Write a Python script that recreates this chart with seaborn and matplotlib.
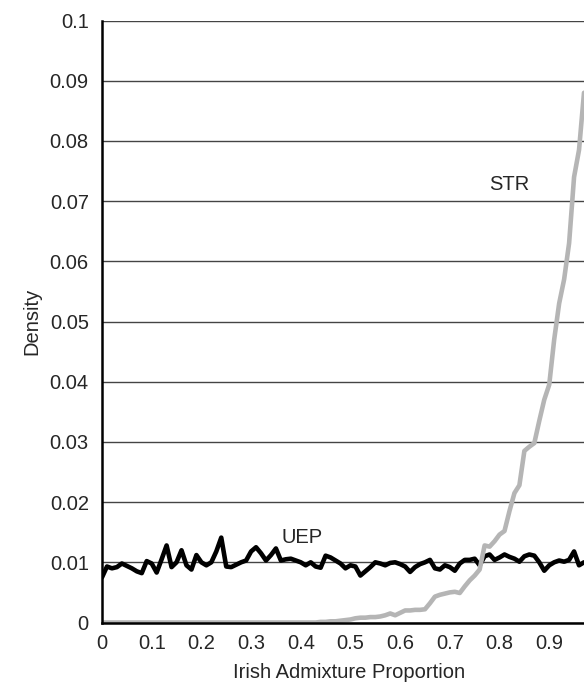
import numpy as np
import pandas as pd
import matplotlib
matplotlib.use("Agg")
import matplotlib.pyplot as plt
import seaborn as sns

# Irish admixture proportion grid (0.00 .. 0.97 in steps of 0.01)
proportion = np.round(np.arange(0, 98) * 0.01, 2)

uep_density = [
    0.0075, 0.0093, 0.0090, 0.0092, 0.0098, 0.0094, 0.0090, 0.0085, 0.0082, 0.0102,
    0.0098, 0.0083, 0.0105, 0.0128, 0.0092, 0.0100, 0.0120, 0.0095, 0.0088, 0.0112,
    0.0100, 0.0095, 0.0100, 0.0118, 0.0141, 0.0093, 0.0092, 0.0096, 0.0100,
    0.0103, 0.0118, 0.0125, 0.0115, 0.0103, 0.0112, 0.0123, 0.0103, 0.0105, 0.0106,
    0.0103, 0.0100, 0.0095, 0.0100, 0.0093, 0.0091, 0.0111, 0.0108, 0.0103, 0.0098,
    0.0090, 0.0095, 0.0093, 0.0078, 0.0085, 0.0092, 0.0100, 0.0098, 0.0095, 0.0099,
    0.0100, 0.0097, 0.0093, 0.0084, 0.0092, 0.0097, 0.0100, 0.0104, 0.0090, 0.0088,
    0.0095, 0.0092, 0.0086, 0.0098, 0.0104, 0.0104, 0.0106, 0.0095, 0.0110,
    0.0113, 0.0104, 0.0108, 0.0113, 0.0109, 0.0106, 0.0101, 0.0110, 0.0113, 0.0111,
    0.0100, 0.0086, 0.0095, 0.0100, 0.0103, 0.0101, 0.0104, 0.0118, 0.0095, 0.0100,
]

str_density = [
    0.0, 0.0, 0.0, 0.0, 0.0, 0.0, 0.0, 0.0, 0.0, 0.0,
    0.0, 0.0, 0.0, 0.0, 0.0, 0.0, 0.0, 0.0, 0.0, 0.0,
    0.0, 0.0, 0.0, 0.0, 0.0, 0.0, 0.0, 0.0, 0.0,
    0.0, 0.0, 0.0, 0.0, 0.0, 0.0, 0.0, 0.0, 0.0, 0.0,
    0.0, 0.0, 0.0, 0.0, 0.0, 0.0001, 0.0001, 0.0002, 0.0002, 0.0003,
    0.0004, 0.0005, 0.0007, 0.0008, 0.0008, 0.0009, 0.0009, 0.0010, 0.0012, 0.0015,
    0.0012, 0.0016, 0.0020, 0.0020, 0.0021, 0.0021, 0.0022, 0.0032, 0.0043, 0.0046,
    0.0048, 0.0050, 0.0051, 0.0049, 0.0060, 0.0070, 0.0078, 0.0088, 0.0128,
    0.0126, 0.0135, 0.0146, 0.0152, 0.0185, 0.0215, 0.0228, 0.0285, 0.0292, 0.0298,
    0.0335, 0.0370, 0.0395, 0.0470, 0.0530, 0.0570, 0.0630, 0.0740, 0.0785, 0.0880,
]

x_ticks = [0, 0.1, 0.2, 0.3, 0.4, 0.5, 0.6, 0.7, 0.8, 0.9]
x_tick_labels = ["0", "0.1", "0.2", "0.3", "0.4", "0.5", "0.6", "0.7", "0.8", "0.9"]
y_ticks = [0, 0.01, 0.02, 0.03, 0.04, 0.05, 0.06, 0.07, 0.08, 0.09, 0.1]
y_tick_labels = ["0", "0.01", "0.02", "0.03", "0.04", "0.05", "0.06", "0.07", "0.08", "0.09", "0.1"]

df = pd.DataFrame({
    "Irish Admixture Proportion": np.concatenate([proportion, proportion]),
    "Density": np.concatenate([uep_density, str_density]),
    "group": ["UEP"] * len(proportion) + ["STR"] * len(proportion),
})

sns.set_style("white")
plt.rcParams["font.family"] = ["Liberation Sans", "DejaVu Sans"]

FS = 14.5

fig = plt.figure(figsize=(5.84, 6.84), dpi=100)
ax = fig.add_axes([102 / 584, 1 - 622.5 / 684, 1 - 102 / 584, 602 / 684])

sns.lineplot(data=df, x="Irish Admixture Proportion", y="Density", hue="group",
             hue_order=["UEP", "STR"], palette={"UEP": "black", "STR": "#b5b5b5"},
             linewidth=3.3, legend=False, ax=ax, estimator=None, sort=False)

ax.set_xlim(0, 0.97)
ax.set_ylim(0, 0.1)
ax.set_xticks(x_ticks)
ax.set_xticklabels(x_tick_labels, fontsize=FS)
ax.set_yticks(y_ticks)
ax.set_yticklabels(y_tick_labels, fontsize=FS)
ax.yaxis.grid(True, color="#444444", linewidth=1.0)
ax.xaxis.grid(False)
ax.set_axisbelow(True)

ax.tick_params(axis="y", direction="inout", length=7, width=1, color="black", pad=6)
ax.tick_params(axis="x", length=0, pad=8.5)

for side in ["top", "right"]:
    ax.spines[side].set_visible(False)
ax.spines["left"].set_color("black")
ax.spines["left"].set_linewidth(1.8)
ax.spines["bottom"].set_color("black")
ax.spines["bottom"].set_linewidth(1.8)

ax.set_xlabel("Irish Admixture Proportion", fontsize=FS)
ax.xaxis.set_label_coords(0.512, -0.0665)
ax.set_ylabel("Density", fontsize=FS, labelpad=6)

ax.text(0.402, 0.01415, "UEP", fontsize=FS, ha="center", va="center")
ax.text(0.819, 0.0727, "STR", fontsize=FS, ha="center", va="center")

fig.savefig("out.png", dpi=100)
